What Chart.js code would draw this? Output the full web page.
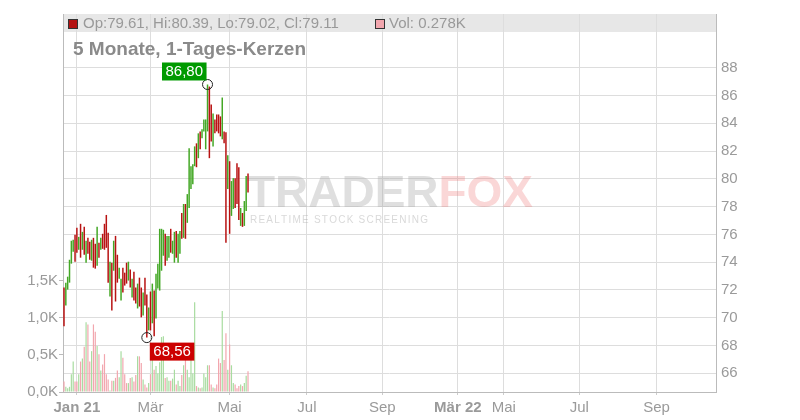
<!DOCTYPE html>
<html><head><meta charset="utf-8">
<script src="https://cdn.jsdelivr.net/npm/chart.js@4.4.1/dist/chart.umd.min.js"></script>
<style>html,body{margin:0;padding:0;background:#fff;}canvas{display:block;}</style>
</head><body>
<canvas id="c" width="800" height="420"></canvas>
<script>
// ---- data (trading-day index 0..100, Dec 2020 - May 2021) ----
const highs = [72.17,72.52,72.95,74.17,75.54,75.61,75.97,76.47,75.82,76.76,
76.18,76.54,75.54,75.75,75.46,75.61,75.75,75.32,76.54,75.39,
75.75,76.04,76.76,77.40,76.11,74.03,73.96,75.54,75.89,74.53,
73.60,72.81,73.60,73.24,73.96,74.03,73.46,72.81,73.31,72.17,
72.45,72.88,72.17,71.81,72.88,71.66,70.73,71.88,72.45,71.95,
73.17,73.89,76.40,76.40,76.33,76.04,75.89,75.89,76.40,75.54,
76.18,76.25,76.04,76.25,77.54,78.19,78.19,78.90,82.20,80.91,
81.05,82.34,82.56,83.28,83.42,83.57,84.28,84.28,86.80,86.65,
85.36,84.71,84.28,84.64,84.64,84.50,85.86,83.42,83.35,81.70,
81.27,79.84,80.05,80.05,81.13,80.84,77.90,77.54,78.40,80.20,
80.39];
const lows = [69.37,70.88,72.02,72.52,73.89,74.75,74.03,74.68,74.89,74.32,
74.89,74.53,73.96,74.60,74.17,74.10,73.60,73.53,73.74,74.32,
74.89,74.96,74.89,75.03,72.52,71.52,70.52,73.38,71.16,72.52,
72.81,71.23,71.81,72.31,72.45,72.67,72.17,71.45,71.23,71.02,
70.66,70.80,70.02,70.16,70.88,68.56,69.08,69.08,69.59,68.65,
69.94,72.09,71.95,73.38,74.46,73.74,74.10,74.32,74.68,74.60,
73.96,74.32,73.96,74.60,75.68,75.75,75.68,76.83,77.90,79.26,
79.62,80.91,80.84,81.49,82.13,82.92,83.42,82.13,83.42,81.49,
82.70,82.34,83.28,83.42,83.28,83.06,82.85,82.56,75.39,79.26,
76.04,77.33,77.83,77.90,78.19,77.04,76.61,76.54,76.61,77.69,
79.02];
// 1 = rising day (close > open), 0 = falling day
const upDays = [0,1,1,1,1,1,0,0,1,0, 1,0,1,0,0,1,0,0,1,0,
1,0,0,0,0,1,0,1,0,0, 1,1,0,0,0,1,0,1,0,0,
1,0,0,1,0,0,1,0,1,0, 1,1,1,1,1,0,1,1,0,1,
1,0,1,1,0,1,0,1,1,1, 1,1,0,1,0,1,1,1,1,0,
0,1,0,0,0,0,1,0,0,1, 0,1,1,0,0,0,1,0,1,1, 0];
// volume in thousands
const volumes = [0.14,0.07,0.05,0.07,0.24,0.41,0.14,0.14,0.24,0.41,
0.45,0.61,0.94,0.91,0.41,0.55,0.91,0.81,0.62,0.51,
0.29,0.37,0.51,0.24,0.17,0.02,0.15,0.15,0.19,0.29,
0.20,0.55,0.46,0.24,0.12,0.12,0.19,0.20,0.14,0.23,
0.48,0.48,0.39,0.17,0.10,0.06,0.12,0.24,0.43,0.30,
0.35,0.25,0.40,0.74,0.75,0.19,0.20,0.15,0.15,0.18,
0.30,0.10,0.15,0.08,0.23,0.36,0.43,0.30,0.20,0.45,
0.25,1.21,0.08,0.06,0.05,0.06,0.25,0.20,0.36,0.36,
0.10,0.06,0.05,0.10,0.45,0.39,1.09,0.43,0.79,0.30,
0.64,0.36,0.12,0.10,0.05,0.08,0.10,0.08,0.12,0.22,
0.278];
const xTickPos = [7,47,90,132,173,214,239,280,322];
const xTickLabels = ['Jan 21','Mär','Mai','Jul','Sep','Mär 22','Mai','Jul','Sep'];
const boldLabels = ['Jan 21','Mär 22'];
const priceTicks = [66,68,70,72,74,76,78,80,82,84,86,88];
const volumeTicks = [0,0.5,1.0,1.5];
const lastOpen = '79.61', lastHigh = '80.39', lastLow = '79.02', lastClose = '79.11';
const lastVolume = '0.278K';
const titleText = '5 Monate, 1-Tages-Kerzen';

// ---- styling ----
const FONT = "'Liberation Sans', Arial, Helvetica, sans-serif";
const GREEN = '#44a826', RED = '#b81212', VGREEN = '#a8dca0', VRED = '#f2a6ae';
const fmtDE = (v, d) => v.toFixed(d).replace('.', ',');

const candleData = highs.map((h, i) => ({x: i, y: [lows[i], h]}));
const volData = volumes.map((v, i) => ({x: i, y: v}));
const hiIdx = highs.indexOf(Math.max(...highs));
const loIdx = lows.indexOf(Math.min(...lows));

const headerPlugin = {
  id: 'header',
  beforeDraw(chart) {
    const c = chart.ctx, a = chart.chartArea;
    c.save();
    c.fillStyle = '#e7e7e7';
    c.fillRect(a.left, a.top, a.right - a.left, 18);
    c.restore();
  },
  afterDraw(chart) {
    const c = chart.ctx, a = chart.chartArea;
    c.save();
    c.fillStyle = '#b31212'; c.fillRect(a.left + 5.5, a.top + 5.5, 9, 9);
    c.strokeStyle = '#333'; c.lineWidth = 1; c.strokeRect(a.left + 5.5, a.top + 5.5, 9, 9);
    c.font = `15px ${FONT}`; c.fillStyle = '#999'; c.textBaseline = 'middle';
    c.fillText(`Op:${lastOpen}, Hi:${lastHigh}, Lo:${lastLow}, Cl:${lastClose}`, a.left + 20, a.top + 10);
    c.fillStyle = '#f2a6ae'; c.fillRect(375.5, a.top + 5.5, 9, 9);
    c.strokeRect(375.5, a.top + 5.5, 9, 9);
    c.fillStyle = '#999';
    c.fillText(`Vol: ${lastVolume}`, 389, a.top + 10);
    c.font = `bold 19px ${FONT}`; c.fillStyle = '#8a8a8a';
    c.fillText(titleText, a.left + 10, a.top + 36);
    c.restore();
  }
};

const watermarkPlugin = {
  id: 'wm',
  beforeDatasetsDraw(chart) {
    const c = chart.ctx;
    c.save();
    c.font = `bold 44px ${FONT}`;
    c.textBaseline = 'alphabetic';
    const w1 = c.measureText('TRADER').width, w2 = c.measureText('FOX').width;
    const sc = 286 / (w1 + w2);
    c.translate(247, 207);
    c.scale(sc, 1);
    c.fillStyle = 'rgba(170,170,170,0.38)';
    c.fillText('TRADER', 0, 0);
    c.fillStyle = 'rgba(238,110,110,0.28)';
    c.fillText('FOX', w1, 0);
    c.restore();
    c.save();
    const sub = 'REALTIME STOCK SCREENING';
    c.font = `10px ${FONT}`;
    c.fillStyle = 'rgba(170,170,170,0.45)';
    c.textBaseline = 'alphabetic';
    const widths = [...sub].map(ch => c.measureText(ch).width);
    const natural = widths.reduce((s, w) => s + w, 0);
    const extra = (178 - natural) / (sub.length - 1);
    let x = 250;
    [...sub].forEach((ch, i) => { c.fillText(ch, x, 223); x += widths[i] + extra; });
    c.restore();
  }
};

const markerPlugin = {
  id: 'markers',
  afterDatasetsDraw(chart) {
    const c = chart.ctx, xs = chart.scales.x, ys = chart.scales.yp;
    c.save();
    c.font = `15px ${FONT}`;
    c.textBaseline = 'middle';
    const box = (txt, left, top, bg) => {
      const w = c.measureText(txt).width + 7, h = 18;
      c.fillStyle = bg; c.fillRect(left, top, w, h);
      c.fillStyle = '#fff'; c.textAlign = 'left';
      c.fillText(txt, left + 3.5, top + h / 2 + 0.5);
      return w;
    };
    const hx = xs.getPixelForValue(hiIdx), hy = ys.getPixelForValue(highs[hiIdx]);
    const ht = fmtDE(highs[hiIdx], 2);
    const hw = c.measureText(ht).width + 7;
    box(ht, hx - 1 - hw, hy - 22, '#009a00');
    const lx = xs.getPixelForValue(loIdx), ly = ys.getPixelForValue(lows[loIdx]);
    box(fmtDE(lows[loIdx], 2), lx + 3, ly + 5, '#cc0000');
    c.restore();
  }
};

new Chart(document.getElementById('c'), {
  type: 'bar',
  data: {
    datasets: [
      {type: 'scatter', data: [{x: hiIdx, y: highs[hiIdx]}, {x: loIdx, y: lows[loIdx]}],
       xAxisID: 'x', yAxisID: 'yp', pointRadius: 5, pointBorderColor: '#222',
       pointBackgroundColor: 'rgba(0,0,0,0)', pointBorderWidth: 1, order: 0},
      {type: 'bar', data: candleData, xAxisID: 'x', yAxisID: 'yp', inflateAmount: 0,
       backgroundColor: upDays.map(u => u ? GREEN : RED), barThickness: 1.5, grouped: false, order: 1},
      {type: 'bar', data: volData, xAxisID: 'x', yAxisID: 'yv', inflateAmount: 0,
       backgroundColor: upDays.map(u => u ? VGREEN : VRED), barThickness: 1.2, grouped: false, order: 2}
    ]
  },
  options: {
    responsive: false, animation: false,
    layout: {padding: {top: 12, left: 0, right: 0, bottom: 0}},
    plugins: {legend: {display: false}, tooltip: {enabled: false}},
    scales: {
      x: {
        type: 'linear', position: 'bottom', min: -0.54, max: 354.3, offset: false,
        afterBuildTicks: s => { s.ticks = xTickPos.map(v => ({value: v})); },
        afterFit: s => { s.height = 28; },
        grid: {color: '#dddddd', tickLength: 3, tickColor: '#cccccc', offset: false},
        border: {color: '#bbbbbb'},
        ticks: {
          autoSkip: false, maxRotation: 0, padding: 4, color: '#9a9a9a',
          font: ctx => ({family: FONT, size: 15, weight: boldLabels.includes(xTickLabels[ctx.index]) ? 'bold' : 'normal'}),
          callback: (v, i) => xTickLabels[i]
        }
      },
      yp: {
        type: 'linear', position: 'right', min: 64.64, max: 91.88,
        afterBuildTicks: s => { s.ticks = priceTicks.map(v => ({value: v})); },
        afterFit: s => { s.width = 84; },
        grid: {color: '#dddddd', drawTicks: false},
        border: {color: '#bbbbbb'},
        ticks: {padding: 5, color: '#9a9a9a', font: {family: FONT, size: 15}, callback: v => String(v)}
      },
      yv: {
        type: 'linear', position: 'left', min: 0, max: 5.09,
        afterBuildTicks: s => { s.ticks = volumeTicks.map(v => ({value: v})); },
        afterFit: s => { s.width = 63; },
        grid: {drawOnChartArea: false, tickLength: 4, color: '#bbbbbb'},
        border: {color: '#bbbbbb'},
        ticks: {padding: 1, color: '#9a9a9a', font: {family: FONT, size: 15}, callback: v => fmtDE(v, 1) + 'K'}
      }
    }
  },
  plugins: [headerPlugin, watermarkPlugin, markerPlugin]
});
</script>
</body></html>
